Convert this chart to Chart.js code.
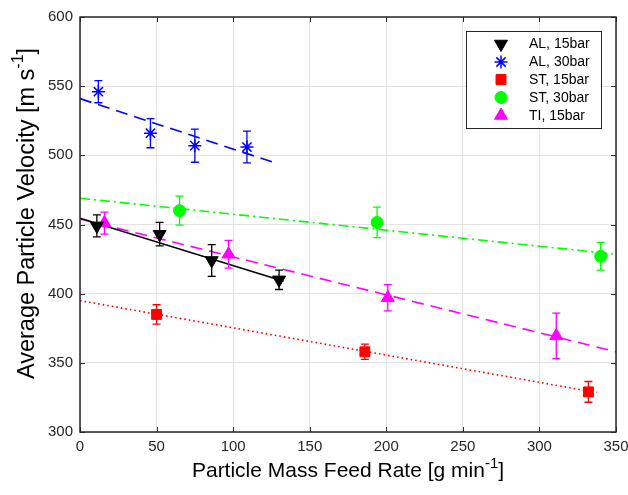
<!DOCTYPE html>
<html><head><meta charset="utf-8">
<script src="https://cdn.jsdelivr.net/npm/chart.js@4.4.0/dist/chart.umd.min.js"></script>
<style>html,body{margin:0;padding:0;background:#fff}</style>
</head><body>
<canvas id="c" width="628" height="495"></canvas>
<script>
// ---- data ----
const xTicks = [0, 50, 100, 150, 200, 250, 300, 350];
const yTicks = [300, 350, 400, 450, 500, 550, 600];

const seriesLabels = ['AL, 15bar', 'AL, 30bar', 'ST, 15bar', 'ST, 30bar', 'TI, 15bar'];

const alLowX = [11, 52, 86, 130];
const alLowY = [449, 443, 424, 410];
const alLowErr = [8, 8.5, 11.5, 7];

const alHighX = [12, 46, 75, 109];
const alHighY = [546, 516, 507, 506];
const alHighErr = [8, 10.5, 12, 11.5];

const stLowX = [50, 186, 332];
const stLowY = [385, 358, 329];
const stLowErr = [7, 5.5, 7.5];

const stHighX = [65, 194, 340];
const stHighY = [460, 451.5, 427];
const stHighErr = [10.5, 11, 10];

const tiX = [16, 97, 201, 311];
const tiY = [451, 428.5, 397, 369.5];
const tiErr = [8, 10, 9.5, 16.5];

// linear fit lines (endpoints)
const alLowFitX = [0, 133];
const alLowFitY = [454.5, 409];
const alHighFitX = [0, 127.5];
const alHighFitY = [541, 494.5];
const stLowFitX = [0, 337.5];
const stLowFitY = [395, 328.5];
const stHighFitX = [0, 350];
const stHighFitY = [469, 428.5];
const tiFitX = [0, 350];
const tiFitY = [454, 358];

// ---- helpers ----
const pts = (xs, ys) => xs.map((x, i) => ({x: x, y: ys[i]}));
const FONT = "'Liberation Sans', Arial, sans-serif";
const AX = '#262626';

const markerSpecs = [
  {color: '#000000', style: 'triangle', rotation: 180, radius: 7.5, border: 1},
  {color: '#0000ff', style: 'star', rotation: 0, radius: 6.5, border: 1.5},
  {color: '#ff0000', style: 'rect', rotation: 0, radius: 7, border: 1},
  {color: '#00ff00', style: 'circle', rotation: 0, radius: 6, border: 1},
  {color: '#ff00ff', style: 'triangle', rotation: 0, radius: 7.5, border: 1}
];
const errs = [alLowErr, alHighErr, stLowErr, stHighErr, tiErr];

function pointDs(i, xs, ys) {
  const m = markerSpecs[i];
  return {
    label: seriesLabels[i], data: pts(xs, ys), showLine: false,
    pointStyle: m.style, rotation: m.rotation, pointRadius: m.radius,
    pointBackgroundColor: m.color, pointBorderColor: m.color, pointBorderWidth: m.border,
    errIdx: i, order: 1
  };
}
function fitDs(xs, ys, color, dash) {
  return {
    label: 'fit', data: pts(xs, ys), showLine: true, pointRadius: 0,
    borderColor: color, borderWidth: 1.6, borderDash: dash, fill: false, order: 2, isFit: true
  };
}

const datasets = [
  fitDs(alLowFitX, alLowFitY, '#000000', []),
  fitDs(alHighFitX, alHighFitY, '#0000ff', [12, 7]),
  fitDs(stLowFitX, stLowFitY, '#ff0000', [1.6, 3]),
  fitDs(stHighFitX, stHighFitY, '#00ff00', [10, 4, 2, 4]),
  fitDs(tiFitX, tiFitY, '#ff00ff', [12, 7]),
  pointDs(0, alLowX, alLowY),
  pointDs(1, alHighX, alHighY),
  pointDs(2, stLowX, stLowY),
  pointDs(3, stHighX, stHighY),
  pointDs(4, tiX, tiY)
];

const errorBarPlugin = {
  id: 'errorBars',
  afterDatasetsDraw(chart) {
    const ctx = chart.ctx, xs = chart.scales.x, ys = chart.scales.y;
    chart.data.datasets.forEach(ds => {
      if (ds.errIdx === undefined) return;
      const e = errs[ds.errIdx], col = markerSpecs[ds.errIdx].color;
      ctx.save();
      ctx.strokeStyle = col; ctx.lineWidth = 1.3;
      ds.data.forEach((p, j) => {
        const px = xs.getPixelForValue(p.x);
        const t = ys.getPixelForValue(p.y + e[j]);
        const b = ys.getPixelForValue(p.y - e[j]);
        ctx.beginPath();
        ctx.moveTo(px, t); ctx.lineTo(px, b);
        ctx.moveTo(px - 4, t); ctx.lineTo(px + 4, t);
        ctx.moveTo(px - 4, b); ctx.lineTo(px + 4, b);
        ctx.stroke();
      });
      ctx.restore();
    });
  }
};

function drawSupText(ctx, parts, x, y, size) {
  ctx.font = size + 'px ' + FONT;
  const w0 = ctx.measureText(parts[0]).width;
  ctx.font = Math.round(size * 0.7) + 'px ' + FONT;
  const w1 = ctx.measureText(parts[1]).width;
  ctx.font = size + 'px ' + FONT;
  const w2 = ctx.measureText(parts[2]).width;
  const total = w0 + w1 + w2;
  let sx = x - total / 2;
  ctx.textAlign = 'left'; ctx.textBaseline = 'alphabetic';
  ctx.fillText(parts[0], sx, y);
  ctx.font = Math.round(size * 0.7) + 'px ' + FONT;
  ctx.fillText(parts[1], sx + w0, y - size * 0.45);
  ctx.font = size + 'px ' + FONT;
  ctx.fillText(parts[2], sx + w0 + w1, y);
}

const framePlugin = {
  id: 'frame',
  afterDatasetsDraw(chart) {
    const ctx = chart.ctx, a = chart.chartArea, xs = chart.scales.x, ys = chart.scales.y;
    ctx.save();
    ctx.strokeStyle = AX; ctx.lineWidth = 1.5;
    ctx.strokeRect(a.left, a.top, a.right - a.left, a.bottom - a.top);
    ctx.lineWidth = 1;
    ctx.beginPath();
    xTicks.forEach(v => {
      const px = Math.round(xs.getPixelForValue(v)) + 0.5;
      ctx.moveTo(px, a.bottom); ctx.lineTo(px, a.bottom - 5);
      ctx.moveTo(px, a.top); ctx.lineTo(px, a.top + 5);
    });
    yTicks.forEach(v => {
      const py = Math.round(ys.getPixelForValue(v)) + 0.5;
      ctx.moveTo(a.left, py); ctx.lineTo(a.left + 5, py);
      ctx.moveTo(a.right, py); ctx.lineTo(a.right - 5, py);
    });
    ctx.stroke();

    // legend
    const lx = 466, ly = 31, lw = 135, lh = 97;
    ctx.fillStyle = '#ffffff';
    ctx.fillRect(lx, ly, lw, lh);
    ctx.strokeStyle = '#262626'; ctx.lineWidth = 1;
    ctx.strokeRect(lx + 0.5, ly + 0.5, lw, lh);
    const rows = [44, 62, 79.5, 97.5, 115.5];
    markerSpecs.forEach((m, i) => {
      ctx.fillStyle = m.color; ctx.strokeStyle = m.color; ctx.lineWidth = m.border;
      Chart.helpers.drawPoint(ctx, {pointStyle: m.style, radius: m.radius, rotation: m.rotation, borderWidth: m.border}, 501, rows[i]);
      ctx.fillStyle = '#000000';
      ctx.font = '14px ' + FONT;
      ctx.textAlign = 'left'; ctx.textBaseline = 'middle';
      ctx.fillText(seriesLabels[i], 529, rows[i] + 0.5);
    });

    // axis titles
    ctx.fillStyle = '#000000';
    drawSupText(ctx, ['Particle Mass Feed Rate [g min', '-1', ']'], (a.left + a.right) / 2, 477, 21);
    ctx.save();
    ctx.translate(34, (a.top + a.bottom) / 2 - 11);
    ctx.rotate(-Math.PI / 2);
    drawSupText(ctx, ['Average Particle Velocity [m s', '-1', ']'], 0, 0, 23.5);
    ctx.restore();
    ctx.restore();
  }
};

new Chart(document.getElementById('c'), {
  type: 'scatter',
  data: {datasets: datasets},
  options: {
    responsive: false, animation: false, devicePixelRatio: 1,
    layout: {padding: {top: 17, right: 12, left: 0, bottom: 0}},
    plugins: {legend: {display: false}, tooltip: {enabled: false}},
    scales: {
      x: {
        type: 'linear', min: 0, max: 350,
        afterFit(s) { s.height = 63; s.paddingLeft = 0; s.paddingRight = 0; },
        afterBuildTicks(s) { s.ticks = xTicks.map(v => ({value: v})); },
        grid: {color: '#e3e3e3', lineWidth: 1, drawTicks: false},
        border: {display: false},
        ticks: {color: AX, font: {family: FONT, size: 15}, padding: 6, maxRotation: 0}
      },
      y: {
        type: 'linear', min: 300, max: 600,
        afterFit(s) { s.width = 80; s.paddingTop = 0; s.paddingBottom = 0; },
        afterBuildTicks(s) { s.ticks = yTicks.map(v => ({value: v})); },
        grid: {color: '#e3e3e3', lineWidth: 1, drawTicks: false},
        border: {display: false},
        ticks: {color: AX, font: {family: FONT, size: 15}, padding: 7}
      }
    }
  },
  plugins: [errorBarPlugin, framePlugin]
});
</script>
</body></html>
